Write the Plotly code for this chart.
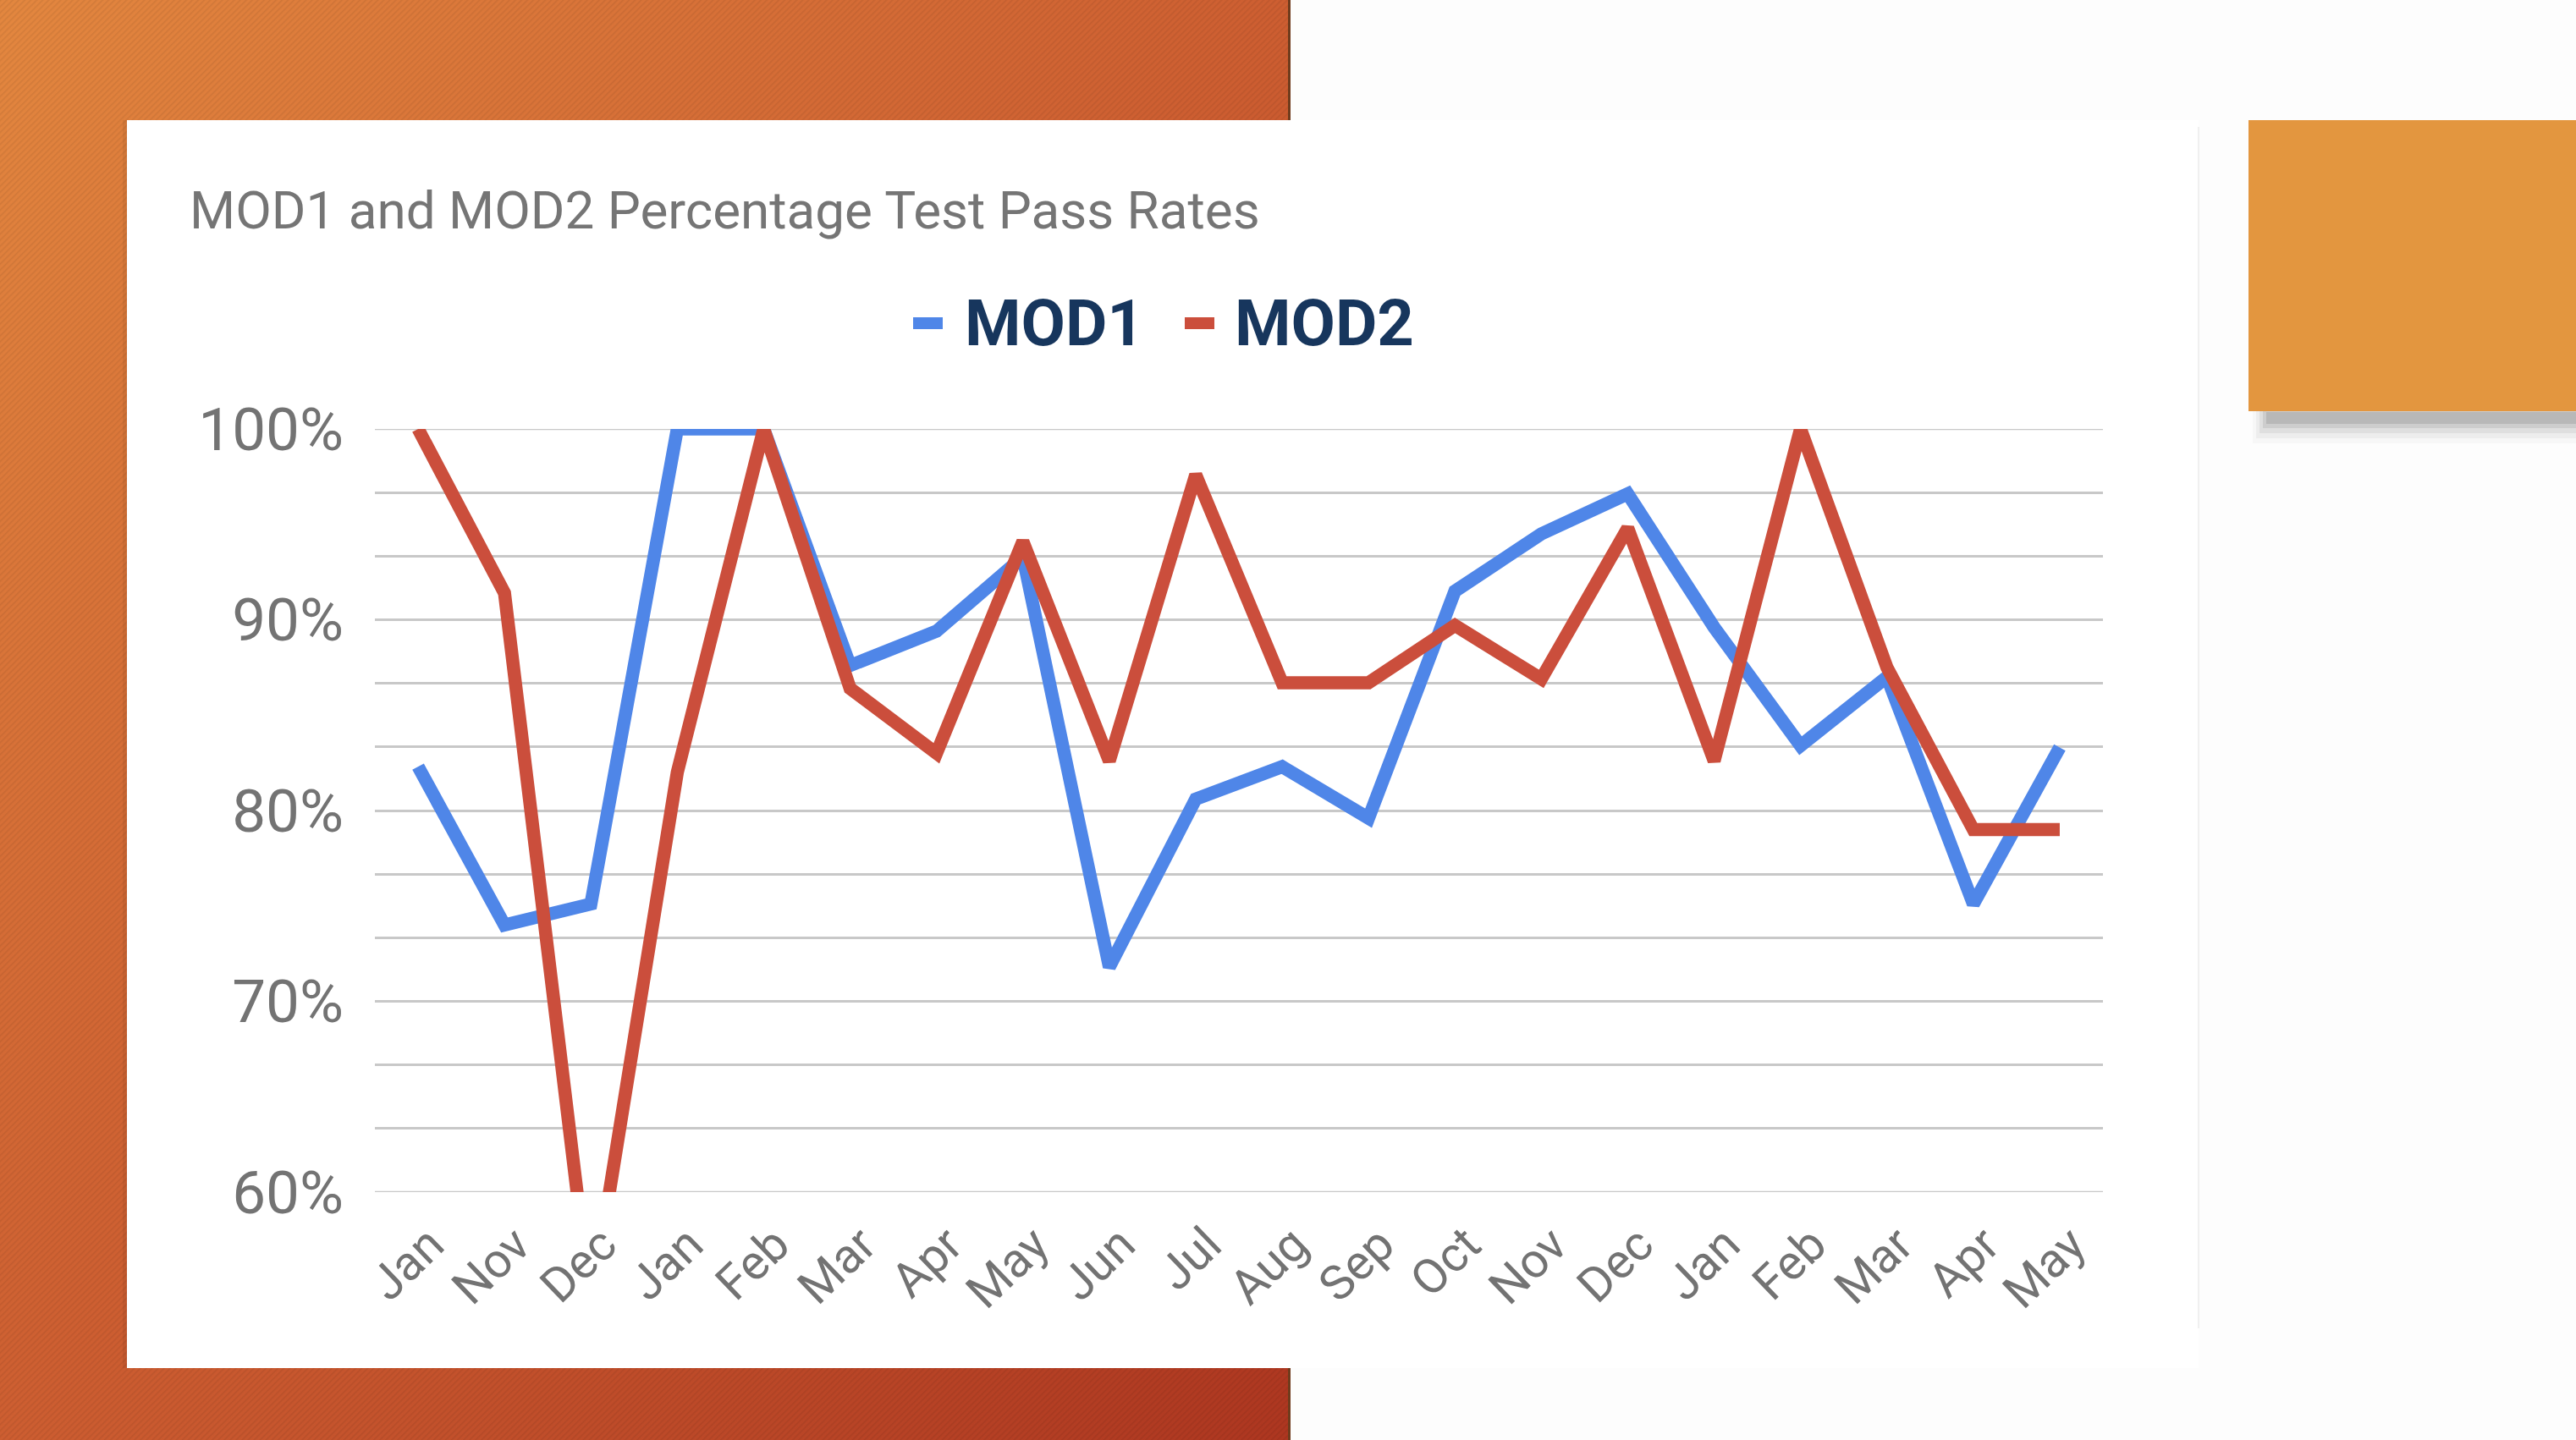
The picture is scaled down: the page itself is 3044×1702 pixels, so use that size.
import base64
import plotly.graph_objects as go

# ---------------- data ----------------
categories = ["Jan", "Nov", "Dec", "Jan", "Feb", "Mar", "Apr", "May", "Jun", "Jul",
              "Aug", "Sep", "Oct", "Nov", "Dec", "Jan", "Feb", "Mar", "Apr", "May"]
mod1 = [82.3, 74.0, 75.1, 100.0, 100.0, 87.6, 89.4, 93.3, 71.8, 80.6,
        82.3, 79.6, 91.5, 94.5, 96.6, 89.6, 83.4, 87.0, 75.1, 83.3]
mod2 = [100.0, 91.4, 54.0, 82.0, 100.0, 86.4, 83.0, 94.1, 82.6, 97.6,
        86.7, 86.7, 89.7, 86.9, 94.8, 82.6, 100.0, 87.5, 79.0, 79.0]
y_tick_values = [60, 70, 80, 90, 100]
y_tick_labels = ["60%", "70%", "80%", "90%", "100%"]
series_names = ["MOD1", "MOD2"]
title_text = "MOD1 and MOD2 Percentage Test Pass Rates"

# ---------------- geometry / styles ----------------
W, H = 3044, 1702
ML, MR, MT, MB = 443, W - 2485, 507, H - 1409
PW, PH = W - ML - MR, H - MT - MB

BLUE = "#4f86e8"
RED = "#cb4e3c"
NAVY = "#17365d"
GRAY_TXT = "#737373"
GRID = "#c8c8c8"
FONT = "Roboto"


def px(xp):
    return (xp - ML) / PW


def py(yp):
    return (H - MB - yp) / PH


svg = """<svg xmlns='http://www.w3.org/2000/svg' width='1525' height='1702' viewBox='0 0 1525 1702' preserveAspectRatio='none'>
<defs>
<linearGradient id='g' x1='0' y1='0' x2='1' y2='1'>
<stop offset='0' stop-color='#e3873f'/>
<stop offset='0.5' stop-color='#cd5e31'/>
<stop offset='1' stop-color='#ad3620'/>
</linearGradient>
<pattern id='p' width='5' height='5' patternUnits='userSpaceOnUse' patternTransform='rotate(45)'>
<rect width='1.6' height='5' fill='#000' fill-opacity='0.07'/>
</pattern>
</defs>
<rect width='1525' height='1702' fill='url(#g)'/>
<rect width='1525' height='1702' fill='url(#p)'/>
<rect x='1522' width='3' height='1702' fill='#6e3b1c'/>
</svg>"""
svg_uri = "data:image/svg+xml;base64," + base64.b64encode(svg.encode()).decode()

x_idx = list(range(len(categories)))

fig = go.Figure()
fig.add_trace(go.Scatter(x=x_idx, y=mod1, mode="lines", name=series_names[0],
                         line=dict(color=BLUE, width=15.5), hoverinfo="skip"))
fig.add_trace(go.Scatter(x=x_idx, y=mod2, mode="lines", name=series_names[1],
                         line=dict(color=RED, width=15.5), hoverinfo="skip"))


def rect(x0, x1, y0, y1, color, layer="below"):
    return dict(type="rect", xref="paper", yref="paper", x0=px(x0), x1=px(x1),
                y0=py(y0), y1=py(y1), fillcolor=color, line=dict(width=0), layer=layer)


shapes = [
    # white chart panel
    rect(150, 2598, 142, 1617, "white"),
    rect(145, 150, 142, 1617, "rgba(0,0,0,0.06)"),
    # faint right edge of panel
    dict(type="line", xref="paper", yref="paper", x0=px(2598), x1=px(2598), y0=py(150), y1=py(1570),
         line=dict(color="#f0f0f0", width=2), layer="below"),
    # soft shadow under orange square
    rect(2662, 3044, 486, 524, "rgba(0,0,0,0.025)"),
    rect(2666, 3044, 486, 518, "rgba(0,0,0,0.04)"),
    rect(2670, 3044, 486, 512, "rgba(0,0,0,0.06)"),
    rect(2674, 3044, 486, 506, "rgba(0,0,0,0.08)"),
    rect(2678, 3044, 487, 501, "rgba(0,0,0,0.10)"),
    # orange square
    rect(2657, 3044, 142, 486, "#e3963f"),
    # legend swatches
    rect(1079, 1114, 375, 389, BLUE, "above"),
    rect(1400, 1435, 375, 389, RED, "above"),
]
# gridlines at the two range ends (plotly omits them at the edges)
for v in (y_tick_values[0], y_tick_values[-1]):
    shapes.append(dict(type="line", xref="paper", yref="y", x0=0, x1=1, y0=v, y1=v,
                       line=dict(color=GRID, width=2.5), layer="below"))

annotations = [
    dict(text=title_text, xref="paper", yref="paper", x=px(222), y=py(249), xanchor="left",
         yanchor="middle", showarrow=False, font=dict(family=FONT, size=62, color="#757575")),
    dict(text="<b>" + series_names[0] + "</b>", xref="paper", yref="paper", x=px(1138), y=py(382),
         xanchor="left", yanchor="middle", showarrow=False, font=dict(family=FONT, size=76, color=NAVY)),
    dict(text="<b>" + series_names[1] + "</b>", xref="paper", yref="paper", x=px(1457), y=py(382),
         xanchor="left", yanchor="middle", showarrow=False, font=dict(family=FONT, size=76, color=NAVY)),
]

fig.update_layout(
    width=W, height=H,
    margin=dict(l=ML, r=MR, t=MT, b=MB, pad=0),
    paper_bgcolor="#fdfdfd",
    plot_bgcolor="rgba(0,0,0,0)",
    showlegend=False,
    shapes=shapes,
    annotations=annotations,
    images=[dict(source=svg_uri, xref="paper", yref="paper", x=px(0), y=py(0),
                 sizex=1525 / PW, sizey=H / PH, xanchor="left", yanchor="top",
                 sizing="stretch", layer="below")],
    font=dict(family=FONT, color=GRAY_TXT),
)

fig.update_xaxes(
    range=[-0.5, len(categories) - 0.5],
    tickmode="array", tickvals=x_idx, ticktext=categories,
    tickangle=-44, tickfont=dict(family=FONT, size=57, color=GRAY_TXT),
    showgrid=False, zeroline=False, showline=False, ticks="",
    ticklabelstandoff=16, ticklabelshift=14,
)
fig.update_yaxes(
    range=[60, 100],
    tickmode="array", tickvals=y_tick_values, ticktext=y_tick_labels,
    tickfont=dict(family=FONT, size=71, color=GRAY_TXT),
    showgrid=True, gridcolor=GRID, gridwidth=2.5,
    minor=dict(dtick=10 / 3, tick0=60, showgrid=True, gridcolor=GRID, gridwidth=2.5),
    zeroline=False, showline=False, ticks="",
    ticklabelstandoff=36,
)

fig.write_html("out.html", config={"displayModeBar": False})
